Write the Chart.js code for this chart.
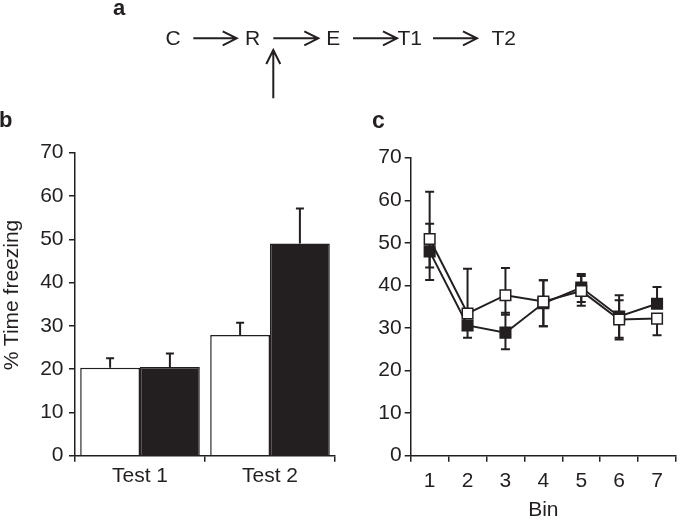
<!DOCTYPE html>
<html><head><meta charset="utf-8">
<script src="https://cdn.jsdelivr.net/npm/chart.js@4/dist/chart.umd.min.js"></script>
<style>
html,body{margin:0;padding:0;background:#fff;}
#wrap{position:relative;width:685px;height:524px;overflow:hidden;background:#fff;}
#cb{position:absolute;left:0;top:130px;width:345px;height:394px;}
#cc{position:absolute;left:345px;top:130px;width:340px;height:394px;}
#ov{position:absolute;left:0;top:0;pointer-events:none;}
#ov text{font-family:'Liberation Sans',Arial,sans-serif;fill:#231f20;}
</style></head><body>
<div id="wrap">
<canvas id="cb" width="345" height="394"></canvas>
<canvas id="cc" width="340" height="394"></canvas>
<svg id="ov" width="685" height="524" xmlns="http://www.w3.org/2000/svg">
  <text x="113" y="15" font-size="22" font-weight="bold">a</text>
  <text x="-1" y="127" font-size="22" font-weight="bold">b</text>
  <text x="372" y="128" font-size="23" font-weight="bold">c</text>
  <g font-size="21">
    <text x="165.5" y="45">C</text>
    <text x="245" y="45">R</text>
    <text x="326.3" y="45">E</text>
    <text x="397.5" y="45">T1</text>
    <text x="491.5" y="45">T2</text>
  </g>
  <g stroke="#231f20" stroke-width="2" fill="none">
    <path d="M193.3 38.3 H236.7 M222.7 31.3 L236.7 38.3 L222.7 45.3"/>
    <path d="M273.3 38.3 H318.3 M304.3 31.3 L318.3 38.3 L304.3 45.3"/>
    <path d="M353 38.3 H397 M383 31.3 L397 38.3 L383 45.3"/>
    <path d="M433 38.3 H477 M463 31.3 L477 38.3 L463 45.3"/>
    <path d="M273.3 98.3 V50 M266.3 64 L273.3 50 L280.3 64"/>
  </g>
  <text transform="translate(18,295) rotate(-90)" text-anchor="middle" font-size="21">% Time freezing</text>
</svg>
</div>
<script>
// ---- data: panel b ----
const testLabels = ['Test 1', 'Test 2'];
const barWhite = [20.3, 27.9];
const barWhiteErr = [2.2, 2.8];
const barBlack = [20.5, 49.0];
const barBlackErr = [3.1, 8.1];

// ---- data: panel c ----
const binLabels = ['1', '2', '3', '4', '5', '6', '7'];
const lineWhite = [50.9, 33.4, 37.7, 36.2, 38.7, 32.0, 32.2];
const lineBlack = [48.0, 30.6, 28.9, 35.8, 39.5, 32.7, 35.7];
const whiteHi = [62.0, 43.9, 44.1, 41.2, 42.2, 36.5, 32.2];
const whiteLo = [44.2, 33.4, 33.1, 30.4, 35.2, 27.3, 28.3];
const blackHi = [54.5, 30.6, 33.6, 41.2, 42.7, 37.7, 39.6];
const blackLo = [41.3, 27.7, 25.0, 30.4, 36.1, 27.7, 35.7];

const yTicks = [0, 10, 20, 30, 40, 50, 60, 70];

const TXT = '#231f20';
const FONT = "'Liberation Sans', Arial, sans-serif";

function drawErr(chart, opts) {
  const ctx = chart.ctx, ys = chart.scales.y;
  ctx.save();
  ctx.strokeStyle = opts.color;
  ctx.lineWidth = opts.width;
  opts.sets.forEach(s => {
    const meta = chart.getDatasetMeta(s.dataset);
    const vals = chart.data.datasets[s.dataset].data;
    meta.data.forEach((el, i) => {
      const x = el.x, v = vals[i];
      const yv = ys.getPixelForValue(v);
      [s.hi ? s.hi[i] : null, s.lo ? s.lo[i] : null].forEach(end => {
        if (end == null || end === v) return;
        const ye = ys.getPixelForValue(end);
        ctx.beginPath();
        ctx.moveTo(x, yv); ctx.lineTo(x, ye);
        ctx.moveTo(x - opts.cap, ye); ctx.lineTo(x + opts.cap, ye);
        ctx.stroke();
      });
    });
  });
  ctx.restore();
}
const errorBars = {
  id: 'errorBars',
  beforeDatasetsDraw(chart, args, opts) { if (opts.layer === 'under') drawErr(chart, opts); },
  afterDatasetsDraw(chart, args, opts) { if (opts.layer === 'over') drawErr(chart, opts); }
};

function yScale(width, pad) {
  return {
    min: 0, max: 70,
    afterBuildTicks(s) { s.ticks = yTicks.map(v => ({value: v})); },
    ticks: {color: TXT, font: {family: FONT, size: 21}, padding: pad},
    grid: {drawOnChartArea: false, drawTicks: true, tickLength: 6, color: TXT, lineWidth: 1.5},
    border: {display: true, color: TXT, width: 1.5},
    afterFit(s) { s.width = width; }
  };
}

new Chart(document.getElementById('cb'), {
  type: 'bar',
  data: {
    labels: testLabels,
    datasets: [
      {data: barWhite, backgroundColor: '#ffffff', borderColor: TXT, borderWidth: 1.5,
       categoryPercentage: 0.92, barPercentage: 1.0},
      {data: barBlack, backgroundColor: TXT, borderColor: TXT, borderWidth: 1.5,
       categoryPercentage: 0.92, barPercentage: 1.0}
    ]
  },
  options: {
    responsive: false, animation: false,
    layout: {padding: {left: 0, right: 10, top: 22.7, bottom: 0}},
    plugins: {
      legend: {display: false}, tooltip: {enabled: false},
      errorBars: {layer: 'over', color: TXT, width: 2, cap: 4,
        sets: [
          {dataset: 0, hi: barWhite.map((v, i) => v + barWhiteErr[i])},
          {dataset: 1, hi: barBlack.map((v, i) => v + barBlackErr[i])}
        ]}
    },
    scales: {
      x: {
        ticks: {color: TXT, font: {family: FONT, size: 21}, padding: 2},
        grid: {drawOnChartArea: false, drawTicks: true, tickLength: 6, color: TXT, lineWidth: 1.5, offset: true},
        border: {display: true, color: TXT, width: 1.5},
        afterFit(s) { s.height = 68.3; }
      },
      y: yScale(75, 5.5)
    }
  },
  plugins: [errorBars]
});

new Chart(document.getElementById('cc'), {
  type: 'line',
  data: {
    labels: binLabels,
    datasets: [
      {data: lineWhite, borderColor: TXT, borderWidth: 2, backgroundColor: '#ffffff',
       pointStyle: 'rect', pointRadius: 7.5, pointBackgroundColor: '#ffffff',
       pointBorderColor: TXT, pointBorderWidth: 1.5, tension: 0},
      {data: lineBlack, borderColor: TXT, borderWidth: 2, backgroundColor: TXT,
       pointStyle: 'rect', pointRadius: 7.5, pointBackgroundColor: TXT,
       pointBorderColor: TXT, pointBorderWidth: 1.5, tension: 0}
    ]
  },
  options: {
    responsive: false, animation: false,
    layout: {padding: {left: 0, right: 1.5, top: 27.7, bottom: 0}},
    plugins: {
      legend: {display: false}, tooltip: {enabled: false},
      errorBars: {layer: 'under', color: TXT, width: 2, cap: 4.5,
        sets: [
          {dataset: 0, hi: whiteHi, lo: whiteLo},
          {dataset: 1, hi: blackHi, lo: blackLo}
        ]}
    },
    scales: {
      x: {
        offset: true,
        ticks: {color: TXT, font: {family: FONT, size: 21}, padding: 7},
        grid: {drawOnChartArea: false, drawTicks: true, tickLength: 6, color: TXT, lineWidth: 1.5, offset: true},
        border: {display: true, color: TXT, width: 1.5},
        title: {display: true, text: 'Bin', color: TXT, font: {family: FONT, size: 21, lineHeight: 1.2},
                padding: {top: 0, bottom: 1}},
        afterFit(s) { s.height = 68.3; }
      },
      y: yScale(65.7, 3)
    }
  },
  plugins: [errorBars]
});
</script>
</body></html>
